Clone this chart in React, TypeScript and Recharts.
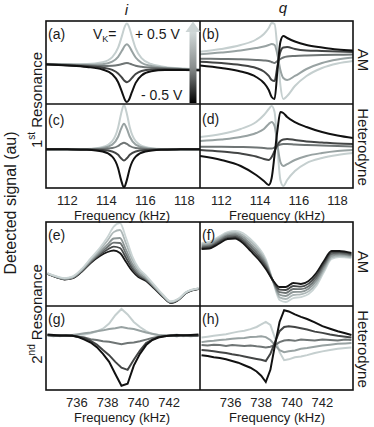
import { LineChart, Line, XAxis, YAxis } from "recharts";

const FONT = "'Liberation Sans', Arial, Helvetica, sans-serif";

// shades, light (+0.5 V) to dark (-0.5 V)
const FIVE = ["#c5cfcf", "#98a2a2", "#6f7575", "#434545", "#111111"];
const SIX = ["#cad4d4", "#adb7b7", "#8e9797", "#6b7171", "#464949", "#161616"];

const ticks1 = [112, 114, 116, 118];
const ticks2 = [736, 738, 740, 742];
const dom1: [number, number] = [110.9, 118.8];
const dom2: [number, number] = [734, 744];

// (a) 1st resonance, i, AM
const freqA = [110.9, 112, 113, 113.8, 114.3, 114.6, 114.8, 114.95, 115.05, 115.15, 115.3, 115.5, 115.8, 116.3, 117, 118, 118.8];
const a1 = [-0.03, -0.041, -0.038, 0.007, 0.131, 0.357, 0.647, 0.876, 0.937, 0.872, 0.639, 0.341, 0.105, -0.037, -0.106, -0.147, -0.168];
const a2 = [-0.035, -0.05, -0.057, -0.04, 0.021, 0.137, 0.287, 0.406, 0.437, 0.402, 0.279, 0.121, -0.005, -0.084, -0.126, -0.156, -0.174];
const a3 = [-0.039, -0.057, -0.073, -0.082, -0.078, -0.061, -0.037, -0.017, -0.013, -0.021, -0.045, -0.077, -0.104, -0.126, -0.144, -0.164, -0.179];
const a4 = [-0.043, -0.065, -0.09, -0.124, -0.179, -0.263, -0.368, -0.449, -0.473, -0.453, -0.376, -0.279, -0.205, -0.168, -0.162, -0.172, -0.184];
const a5 = [-0.048, -0.073, -0.108, -0.169, -0.285, -0.475, -0.714, -0.901, -0.953, -0.905, -0.72, -0.491, -0.311, -0.213, -0.182, -0.181, -0.189];

// (b) 1st resonance, q, AM  and (d) q, heterodyne
const freqB = [110.9, 112, 113, 113.8, 114.2, 114.45, 114.6, 114.75, 114.9, 115.05, 115.2, 115.4, 115.8, 116.4, 117.2, 118, 118.8];
const b1 = [0.26, 0.325, 0.422, 0.554, 0.687, 0.831, 0.952, 0.928, 0.301, -0.542, -0.88, -0.807, -0.566, -0.325, -0.133, -0.024, 0.036];
const b2 = [0.198, 0.241, 0.289, 0.349, 0.386, 0.422, 0.446, 0.422, 0.181, -0.181, -0.373, -0.422, -0.325, -0.157, -0.012, 0.072, 0.12];
const b3 = [0.092, 0.084, 0.077, 0.06, 0.048, 0.036, 0.012, -0.012, 0.036, 0.084, 0.12, 0.145, 0.157, 0.169, 0.181, 0.186, 0.193];
const b4 = [0.019, -0.012, -0.06, -0.133, -0.217, -0.325, -0.422, -0.446, -0.084, 0.253, 0.361, 0.373, 0.325, 0.289, 0.277, 0.265, 0.253];
const b5 = [-0.072, -0.133, -0.217, -0.349, -0.494, -0.663, -0.831, -0.88, -0.181, 0.494, 0.639, 0.59, 0.506, 0.422, 0.361, 0.313, 0.289];

// (c) 1st resonance, i, heterodyne
const freqC = [110.9, 112, 113, 113.8, 114.3, 114.6, 114.75, 114.9, 115.05, 115.2, 115.5, 116, 116.8, 117.8, 118.8];
const c1 = [-0.094, -0.089, -0.074, -0.025, 0.116, 0.44, 0.764, 0.98, 0.764, 0.44, 0.116, -0.025, -0.074, -0.089, -0.094];
const c2 = [-0.087, -0.083, -0.075, -0.047, 0.034, 0.22, 0.406, 0.53, 0.406, 0.22, 0.034, -0.047, -0.075, -0.083, -0.087];
const c3 = [-0.079, -0.078, -0.076, -0.069, -0.048, 0.0, 0.048, 0.08, 0.048, 0.0, -0.048, -0.069, -0.076, -0.078, -0.079];
const c4 = [-0.077, -0.078, -0.081, -0.094, -0.129, -0.21, -0.291, -0.345, -0.291, -0.21, -0.129, -0.094, -0.081, -0.078, -0.077];
const c5 = [-0.075, -0.08, -0.092, -0.133, -0.254, -0.53, -0.806, -0.99, -0.806, -0.53, -0.254, -0.133, -0.092, -0.08, -0.075];

const d1 = [0.214, 0.286, 0.405, 0.571, 0.738, 0.881, 0.952, 0.81, -0.048, -0.81, -0.952, -0.81, -0.595, -0.405, -0.286, -0.214, -0.167];
const d2 = [0.119, 0.155, 0.214, 0.31, 0.405, 0.524, 0.571, 0.476, 0.024, -0.381, -0.476, -0.429, -0.333, -0.238, -0.167, -0.119, -0.095];
const d3 = [-0.017, -0.017, -0.024, -0.036, -0.048, -0.06, -0.06, -0.036, 0.0, 0.036, 0.048, 0.048, 0.036, 0.024, 0.012, 0.0, -0.012];
const d4 = [-0.095, -0.131, -0.179, -0.25, -0.31, -0.333, -0.262, -0.119, 0.024, 0.119, 0.155, 0.167, 0.143, 0.107, 0.083, 0.06, 0.048];
const d5 = [-0.238, -0.333, -0.476, -0.69, -0.833, -0.929, -0.762, -0.214, 0.381, 0.81, 0.786, 0.69, 0.571, 0.452, 0.333, 0.25, 0.19];

// (e) 2nd resonance, i, AM
const freqE = [734.1, 734.6, 735.2, 735.7, 736.3, 736.9, 737.5, 738.0, 738.4, 738.8, 739.2, 739.6, 740.0, 740.5, 741.0, 741.6, 742.1, 742.6, 743.1, 743.9];
const e1 = [-0.218, -0.285, -0.335, -0.301, -0.124, 0.132, 0.386, 0.643, 0.892, 0.976, 0.619, 0.19, -0.09, -0.276, -0.487, -0.732, -0.889, -0.827, -0.666, -0.578];
const e2 = [-0.223, -0.291, -0.343, -0.311, -0.139, 0.107, 0.341, 0.56, 0.759, 0.81, 0.486, 0.107, -0.141, -0.306, -0.507, -0.745, -0.898, -0.834, -0.672, -0.582];
const e3 = [-0.228, -0.298, -0.352, -0.323, -0.157, 0.078, 0.288, 0.465, 0.607, 0.619, 0.334, 0.012, -0.2, -0.34, -0.529, -0.759, -0.909, -0.842, -0.678, -0.586];
const e4 = [-0.231, -0.302, -0.358, -0.33, -0.168, 0.06, 0.255, 0.405, 0.511, 0.5, 0.238, -0.048, -0.237, -0.362, -0.543, -0.768, -0.916, -0.847, -0.682, -0.589];
const e5 = [-0.235, -0.306, -0.363, -0.338, -0.179, 0.042, 0.223, 0.346, 0.416, 0.381, 0.143, -0.107, -0.273, -0.383, -0.557, -0.777, -0.922, -0.852, -0.686, -0.592];
const e6 = [-0.238, -0.31, -0.369, -0.345, -0.19, 0.024, 0.19, 0.286, 0.321, 0.262, 0.048, -0.167, -0.31, -0.405, -0.571, -0.786, -0.929, -0.857, -0.69, -0.595];

// (f) 2nd resonance, q, AM
const freqF = [734.1, 734.6, 735.2, 735.8, 736.3, 736.8, 737.3, 737.8, 738.3, 738.8, 739.2, 739.6, 740.1, 740.6, 741.1, 741.6, 742.1, 742.6, 743.1, 743.9];
const f1 = [0.5, 0.524, 0.643, 0.762, 0.786, 0.738, 0.595, 0.405, 0.119, -0.452, -0.857, -0.905, -0.81, -0.786, -0.714, -0.524, -0.19, 0.119, 0.167, 0.143];
const f2 = [0.471, 0.493, 0.61, 0.729, 0.75, 0.69, 0.538, 0.348, 0.071, -0.443, -0.795, -0.833, -0.738, -0.724, -0.652, -0.462, -0.138, 0.157, 0.196, 0.167];
const f3 = [0.443, 0.462, 0.576, 0.695, 0.714, 0.643, 0.481, 0.291, 0.024, -0.433, -0.733, -0.762, -0.667, -0.662, -0.59, -0.4, -0.086, 0.195, 0.224, 0.191];
const f4 = [0.414, 0.431, 0.543, 0.662, 0.679, 0.595, 0.424, 0.233, -0.024, -0.424, -0.672, -0.691, -0.595, -0.6, -0.529, -0.338, -0.033, 0.234, 0.253, 0.214];
const f5 = [0.386, 0.4, 0.509, 0.628, 0.643, 0.548, 0.367, 0.176, -0.071, -0.414, -0.61, -0.619, -0.524, -0.538, -0.467, -0.276, 0.019, 0.272, 0.281, 0.238];
const f6 = [0.357, 0.369, 0.476, 0.595, 0.607, 0.5, 0.31, 0.119, -0.119, -0.405, -0.548, -0.548, -0.452, -0.476, -0.405, -0.214, 0.071, 0.31, 0.31, 0.262];

// (g) 2nd resonance, i, heterodyne (noisy)
const freqG = [734.1, 734.5, 734.9, 735.3, 735.7, 736.1, 736.5, 736.9, 737.3, 737.7, 738.1, 738.5, 738.9, 739.3, 739.7, 740.1, 740.5, 740.9, 741.3, 741.7, 742.1, 742.5, 742.9, 743.4, 743.9];
const g1 = [0.29, 0.31, 0.28, 0.3, 0.29, 0.31, 0.32, 0.35, 0.4, 0.46, 0.58, 0.78, 0.93, 0.8, 0.62, 0.5, 0.4, 0.33, 0.31, 0.29, 0.3, 0.32, 0.28, 0.3, 0.29];
const g2 = [0.3, 0.28, 0.31, 0.29, 0.31, 0.33, 0.35, 0.37, 0.4, 0.42, 0.45, 0.47, 0.5, 0.47, 0.45, 0.41, 0.37, 0.34, 0.31, 0.3, 0.29, 0.31, 0.3, 0.28, 0.3];
const g3 = [0.31, 0.3, 0.29, 0.31, 0.29, 0.27, 0.25, 0.21, 0.19, 0.16, 0.15, 0.12, 0.09, 0.12, 0.13, 0.16, 0.2, 0.24, 0.27, 0.29, 0.3, 0.28, 0.31, 0.3, 0.29];
const g4 = [0.31, 0.29, 0.3, 0.29, 0.3, 0.27, 0.24, 0.17, 0.08, -0.05, -0.17, -0.33, -0.47, -0.52, -0.28, -0.06, 0.12, 0.2, 0.26, 0.28, 0.3, 0.29, 0.31, 0.29, 0.3];
const g5 = [0.32, 0.31, 0.3, 0.3, 0.29, 0.26, 0.2, 0.13, 0.02, -0.14, -0.33, -0.62, -0.9, -0.85, -0.42, -0.14, 0.07, 0.19, 0.25, 0.28, 0.3, 0.31, 0.3, 0.31, 0.32];

// (h) 2nd resonance, q, heterodyne (noisy)
const freqH = [734.1, 734.5, 734.9, 735.3, 735.7, 736.1, 736.5, 736.9, 737.3, 737.7, 738.0, 738.3, 738.6, 738.9, 739.2, 739.5, 739.8, 740.2, 740.6, 741.0, 741.5, 742.0, 742.5, 743.0, 743.5, 743.9];
const h1 = [0.25, 0.27, 0.29, 0.31, 0.33, 0.36, 0.39, 0.41, 0.45, 0.5, 0.56, 0.62, 0.55, 0.24, -0.1, -0.29, -0.27, -0.22, -0.2, -0.17, -0.12, -0.08, -0.05, -0.02, 0.0, 0.01];
const h2 = [0.14, 0.16, 0.17, 0.19, 0.2, 0.22, 0.23, 0.24, 0.26, 0.27, 0.28, 0.26, 0.19, 0.07, -0.05, -0.1, -0.08, -0.06, -0.02, 0.0, 0.03, 0.06, 0.08, 0.1, 0.11, 0.12];
const h3 = [0.07, 0.06, 0.08, 0.07, 0.05, 0.07, 0.06, 0.05, 0.06, 0.04, 0.03, 0.01, 0.03, 0.07, 0.14, 0.18, 0.19, 0.17, 0.2, 0.19, 0.18, 0.2, 0.19, 0.18, 0.2, 0.19];
const h4 = [-0.05, -0.06, -0.08, -0.1, -0.12, -0.15, -0.17, -0.2, -0.23, -0.26, -0.28, -0.31, -0.14, 0.14, 0.4, 0.5, 0.52, 0.5, 0.47, 0.44, 0.39, 0.36, 0.32, 0.29, 0.27, 0.25];
const h5 = [-0.17, -0.19, -0.22, -0.24, -0.27, -0.31, -0.35, -0.41, -0.47, -0.56, -0.66, -0.81, -0.52, 0.07, 0.62, 0.9, 0.87, 0.8, 0.74, 0.69, 0.61, 0.52, 0.46, 0.4, 0.35, 0.31];

type PanelProps = {
  left: number;
  top: number;
  width: number;
  height: number;
  freq: number[];
  curves: number[][];
  colors: string[];
  domain: [number, number];
  ticks: number[];
  labels: boolean;
  order?: number[];
  curve?: "monotone" | "linear";
  sw?: number;
};

function Panel({ left, top, width, height, freq, curves, colors, domain, ticks, labels, order, curve = "monotone", sw = 2 }: PanelProps) {
  const data = freq.map((f, i) => {
    const row: Record<string, number> = { f };
    curves.forEach((c, k) => (row["s" + k] = c[i]));
    return row;
  });
  const axisH = labels ? 24 : 0;
  const idx = order ?? curves.map((_, k) => k);
  return (
    <div style={{ position: "absolute", left, top }}>
      <LineChart width={width} height={height + axisH} data={data} margin={{ top: 0, right: 0, bottom: 0, left: 0 }}>
        {labels ? (
          <XAxis dataKey="f" type="number" domain={domain} ticks={ticks} allowDataOverflow height={axisH}
            axisLine={false} tickLine={false} tickMargin={2} tick={{ fontSize: 13, fill: "#222", fontFamily: FONT }} />
        ) : (
          <XAxis dataKey="f" type="number" domain={domain} ticks={ticks} allowDataOverflow height={0}
            mirror axisLine={false} tick={false} tickSize={4} tickLine={{ stroke: "#111", strokeWidth: 1.2 }} />
        )}
        <YAxis hide domain={[-1, 1]} allowDataOverflow />
        {idx.map((k) => (
          <Line key={k} dataKey={"s" + k} type={curve} stroke={colors[k]} strokeWidth={sw}
            dot={false} isAnimationActive={false} />
        ))}
      </LineChart>
    </div>
  );
}

function Overlay() {
  const t = { fontFamily: FONT, fill: "#1a1a1a" } as const;
  return (
    <svg width={374} height={427} style={{ position: "absolute", left: 0, top: 0, pointerEvents: "none" }}>
      <defs>
        <linearGradient id="vk" x1="0" y1="1" x2="0" y2="0">
          <stop offset="0" stopColor="#000" />
          <stop offset="0.5" stopColor="#8a8f8f" />
          <stop offset="1" stopColor="#d3dbdb" />
        </linearGradient>
      </defs>
      {/* frames */}
      <g fill="none" stroke="#111" strokeWidth={1.6}>
        <rect x={46} y={21} width={307} height={167} />
        <line x1={46} y1={104} x2={353} y2={104} />
        <line x1={200} y1={21} x2={200} y2={188} />
        <rect x={46} y={222} width={307} height={168} />
        <line x1={46} y1={306} x2={353} y2={306} />
        <line x1={200} y1={222} x2={200} y2={390} />
      </g>
      {/* V_K arrow */}
      <rect x={189.5} y={31} width={7} height={72} fill="url(#vk)" />
      <polygon points="185.5,32 200.5,32 193,21.5" fill="#cdd5d5" />

      <text x={126.5} y={15} fontSize={15} fontStyle="italic" textAnchor="middle" {...t}>i</text>
      <text x={283} y={13} fontSize={15} fontStyle="italic" textAnchor="middle" {...t}>q</text>

      <g fontSize={14} {...t}>
        <text x={48} y={38.5}>(a)</text>
        <text x={202} y={38.5}>(b)</text>
        <text x={48} y={125}>(c)</text>
        <text x={202} y={124}>(d)</text>
        <text x={48} y={240}>(e)</text>
        <text x={202} y={240}>(f)</text>
        <text x={48} y={324}>(g)</text>
        <text x={202} y={324}>(h)</text>
        <text x={93} y={38.5}>V<tspan fontSize={9} dy={3}>K</tspan><tspan dy={-3}>=</tspan></text>
        <text x={135} y={38.5}>+ 0.5 V</text>
        <text x={141} y={100}>- 0.5 V</text>
      </g>

      <g fontSize={15} {...t} textAnchor="middle" dominantBaseline="central">
        <text transform="translate(363,60) rotate(90)">AM</text>
        <text transform="translate(363,147) rotate(90)">Heterodyne</text>
        <text transform="translate(363,262) rotate(90)">AM</text>
        <text transform="translate(363,349) rotate(90)">Heterodyne</text>
        <text transform="translate(36,100) rotate(-90)">1<tspan fontSize={10} dy={-5}>st</tspan><tspan dy={5}> Resonance</tspan></text>
        <text transform="translate(36,314) rotate(-90)">2<tspan fontSize={10} dy={-5}>nd</tspan><tspan dy={5}> Resonance</tspan></text>
        <text transform="translate(10,203) rotate(-90)" fontSize={16}>Detected signal (au)</text>
      </g>

      <g fontSize={13} {...t} textAnchor="middle">
        <text x={122} y={219.5}>Frequency (kHz)</text>
        <text x={277} y={219.5}>Frequency (kHz)</text>
        <text x={122} y={422}>Frequency (kHz)</text>
        <text x={277} y={422}>Frequency (kHz)</text>
      </g>
    </svg>
  );
}

export default function App() {
  return (
    <div style={{ position: "absolute", left: 0, top: 0, width: 374, height: 427, background: "#fff" }}>
      <Panel left={46} top={21} width={154} height={83} freq={freqA} curves={[a1, a2, a3, a4, a5]} colors={FIVE} domain={dom1} ticks={ticks1} labels={false} />
      <Panel left={200} top={21} width={153} height={83} freq={freqB} curves={[b1, b2, b3, b4, b5]} colors={FIVE} domain={dom1} ticks={ticks1} labels={false} />
      <Panel left={46} top={104} width={154} height={84} freq={freqC} curves={[c1, c2, c3, c4, c5]} colors={FIVE} domain={dom1} ticks={ticks1} labels />
      <Panel left={200} top={104} width={153} height={84} freq={freqB} curves={[d1, d2, d3, d4, d5]} colors={FIVE} domain={dom1} ticks={ticks1} labels />
      <Panel left={46} top={222} width={154} height={84} freq={freqE} curves={[e1, e2, e3, e4, e5, e6]} colors={SIX} domain={dom2} ticks={ticks2} labels={false} order={[5, 4, 3, 2, 1, 0]} sw={1.8} />
      <Panel left={200} top={222} width={153} height={84} freq={freqF} curves={[f1, f2, f3, f4, f5, f6]} colors={SIX} domain={dom2} ticks={ticks2} labels={false} sw={1.8} />
      <Panel left={46} top={306} width={154} height={84} freq={freqG} curves={[g1, g2, g3, g4, g5]} colors={FIVE} domain={dom2} ticks={ticks2} labels curve="linear" />
      <Panel left={200} top={306} width={153} height={84} freq={freqH} curves={[h1, h2, h3, h4, h5]} colors={FIVE} domain={dom2} ticks={ticks2} labels curve="linear" />
      <Overlay />
    </div>
  );
}
